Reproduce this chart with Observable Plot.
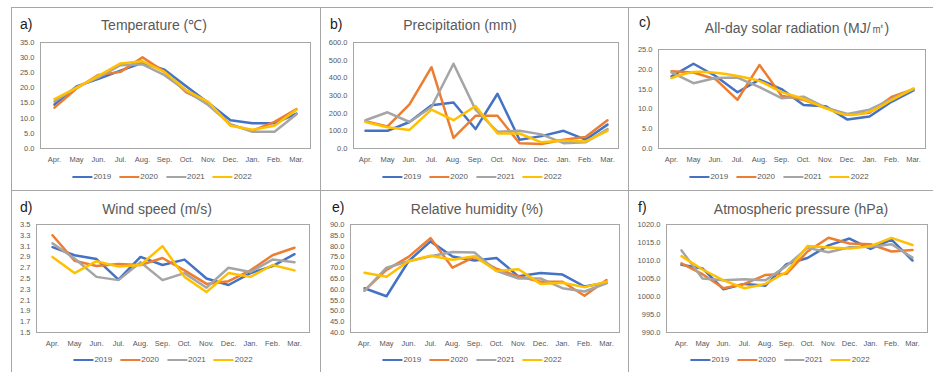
<!DOCTYPE html>
<html><head><meta charset="utf-8">
<script src="https://cdn.jsdelivr.net/npm/d3@7"></script>
<script src="https://cdn.jsdelivr.net/npm/@observablehq/plot@0.6"></script>
<style>
body{margin:0;background:#fff;font-family:"Liberation Sans",Arial,sans-serif;}
#root{position:relative;width:933px;height:372px;overflow:hidden;background:#fff;}
.abs{position:absolute;}
.ttl{position:absolute;font-size:14px;color:#595959;white-space:nowrap;transform:translateX(-50%);line-height:1;}
.lbl{position:absolute;font-size:14px;color:#1a1a1a;white-space:nowrap;line-height:1;}
.leg{position:absolute;display:flex;align-items:center;transform:translateX(-50%);font-size:8px;color:#595959;white-space:nowrap;line-height:1;}
.leg span.sw{display:inline-block;width:20px;height:2.5px;margin-right:1px;}
.leg span.tx{margin-right:8px;}
.hl{position:absolute;height:1px;background:#a6a6a6;}
.vl{position:absolute;width:1px;background:#a6a6a6;}
</style></head><body><div id="root"></div>
<script>
// ---- data ----
const months = ["Apr.","May","Jun.","Jul.","Aug.","Sep.","Oct.","Nov.","Dec.","Jan.","Feb.","Mar."];
const years = ["2019","2020","2021","2022"];
const colors = ["#4472C4","#ED7D31","#A5A5A5","#FFC000"];

const temperature = [
  [14.5,20.5,23.0,25.7,28.3,26.0,20.5,15.0,9.3,8.3,8.3,11.5],
  [13.5,19.8,24.3,25.3,30.1,25.3,18.5,15.0,7.8,5.9,8.8,13.0],
  [15.5,20.2,23.5,27.5,27.8,24.2,19.0,14.3,8.0,5.5,5.5,11.3],
  [16.3,20.0,24.0,28.1,28.8,25.3,19.2,15.3,7.5,6.2,7.5,12.8]
];
const precipitation = [
  [100,100,150,245,260,110,310,50,70,100,50,135],
  [155,125,250,460,60,185,185,30,25,50,65,160],
  [160,205,150,235,480,220,95,100,80,30,35,110],
  [150,120,105,220,160,240,85,85,35,45,40,100]
];
const solarRadiation = [
  [18.2,21.4,18.3,14.2,17.4,15.0,11.0,10.7,7.3,8.1,11.8,14.7],
  [19.5,19.2,17.5,12.3,21.1,13.3,12.3,10.3,8.5,9.0,13.0,15.0],
  [19.2,16.5,17.8,17.9,15.5,12.7,13.1,10.3,8.7,9.8,12.5,15.0],
  [17.8,19.3,19.1,18.3,17.0,14.3,12.5,10.2,8.5,9.3,12.2,15.2]
];
const windSpeed = [
  [3.08,2.93,2.86,2.48,2.90,2.75,2.85,2.50,2.38,2.60,2.73,2.95],
  [3.30,2.83,2.73,2.77,2.75,2.88,2.65,2.40,2.45,2.65,2.93,3.07],
  [3.15,2.87,2.53,2.47,2.80,2.47,2.60,2.33,2.70,2.62,2.85,2.80],
  [2.90,2.60,2.82,2.72,2.75,3.10,2.53,2.25,2.60,2.53,2.75,2.65]
];
const humidity = [
  [60.5,56.8,73.0,82.2,75.2,73.3,74.5,66.0,67.5,66.8,61.3,63.0],
  [59.5,69.0,75.0,83.7,70.0,75.0,69.5,66.0,63.5,63.5,57.0,64.3],
  [59.3,70.0,73.0,75.3,77.3,77.0,68.5,65.0,65.0,60.5,59.0,62.8],
  [67.7,65.8,73.0,75.5,73.7,75.3,68.5,69.3,62.5,63.0,61.0,63.5]
];
const pressure = [
  [1008.8,1007.8,1002.0,1003.5,1003.0,1009.0,1010.7,1014.2,1016.1,1013.2,1015.8,1010.0],
  [1009.2,1006.2,1002.3,1003.5,1006.0,1006.3,1012.5,1016.3,1014.7,1014.5,1012.5,1012.9],
  [1012.8,1005.0,1004.5,1004.8,1004.5,1008.5,1013.5,1012.3,1013.7,1013.8,1014.5,1010.8],
  [1011.2,1007.5,1004.5,1002.3,1003.5,1006.8,1014.0,1013.6,1013.3,1014.0,1016.3,1014.3]
];
const tempTicks = [0,5,10,15,20,25,30,35];
const precipTicks = [0,100,200,300,400,500,600];
const solarTicks = [0,5,10,15,20,25];
const windTicks = [1.5,1.7,1.9,2.1,2.3,2.5,2.7,2.9,3.1,3.3,3.5];
const humidityTicks = [40,45,50,55,60,65,70,75,80,85,90];
const pressureTicks = [990,995,1000,1005,1010,1015,1020];

// ---- layout ----
const panels = [
  {letter:"a)", title:"Temperature (℃)", values:temperature, ticks:tempTicks,
   frame:[40,310,42,148], titleX:154, titleY:18, letterX:20, letterY:17, legendX:166, legendY:173},
  {letter:"b)", title:"Precipitation (mm)", values:precipitation, ticks:precipTicks,
   frame:[353,618,42,148], titleX:460, titleY:18, letterX:330, letterY:17, legendX:476, legendY:173},
  {letter:"c)", title:"All-day solar radiation (MJ/㎡)", values:solarRadiation, ticks:solarTicks, smooth:["2022"],
   frame:[658,925,49,148], titleX:797, titleY:21, letterX:639, letterY:15, legendX:783, legendY:173},
  {letter:"d)", title:"Wind speed (m/s)", values:windSpeed, ticks:windTicks,
   frame:[36,309,224,332], titleX:157, titleY:202, letterX:20, letterY:200, legendX:167, legendY:356},
  {letter:"e)", title:"Relative humidity (%)", values:humidity, ticks:humidityTicks,
   frame:[350,619,224,332], titleX:477, titleY:202, letterX:332, letterY:200, legendX:476, legendY:356},
  {letter:"f)", title:"Atmospheric pressure (hPa)", values:pressure, ticks:pressureTicks,
   frame:[666,927,224,332], titleX:801, titleY:202, letterX:638, letterY:200, legendX:784, legendY:356}
];

const root = document.getElementById("root");
function add(cls, styles, html) {
  const d = document.createElement("div");
  d.className = cls;
  Object.assign(d.style, styles);
  if (html !== undefined) d.innerHTML = html;
  root.appendChild(d);
  return d;
}

// panel borders
add("hl", {left:"11px", top:"7px", width:"922px"});
add("hl", {left:"11px", top:"190px", width:"922px"});
add("vl", {left:"11px", top:"7px", height:"365px"});
add("vl", {left:"320px", top:"7px", height:"365px"});
add("vl", {left:"628px", top:"7px", height:"365px"});

const mL = 36, mR = 4, mT = 6, mB = 20;
for (const p of panels) {
  const [x0, x1, y0, y1] = p.frame;
  const data = [];
  p.values.forEach((arr, i) => arr.forEach((v, j) => data.push({year: years[i], month: months[j], value: v})));
  const smooth = p.smooth || [];
  const straightData = data.filter(d => !smooth.includes(d.year));
  const smoothData = data.filter(d => smooth.includes(d.year));
  const step = p.ticks[1] - p.ticks[0];
  const dec = step < 1 ? 1 : 1;
  const chart = Plot.plot({
    width: (x1 - x0) + mL + mR,
    height: (y1 - y0) + mT + mB,
    marginLeft: mL, marginRight: mR, marginTop: mT, marginBottom: mB,
    style: {fontFamily: '"Liberation Sans", Arial, sans-serif', fontSize: "7.5px", color: "#595959", background: "transparent", overflow: "visible"},
    x: {type: "point", domain: months, padding: 0.5},
    y: {domain: [p.ticks[0], p.ticks[p.ticks.length - 1]]},
    color: {domain: years, range: colors},
    marks: [
      Plot.frame({stroke: "#a6a6a6", strokeWidth: 1}),
      Plot.axisY({ticks: p.ticks, tickSize: 0, tickPadding: 6, tickFormat: d => d.toFixed(dec), label: null, fill: "#595959"}),
      Plot.axisX({tickSize: 0, tickPadding: 8, label: null, fill: "#595959"}),
      Plot.lineY(straightData, {x: "month", y: "value", z: "year", stroke: "year", strokeWidth: 2.5, strokeLinejoin: "round"}),
      Plot.lineY(smoothData, {x: "month", y: "value", z: "year", stroke: "year", strokeWidth: 2.5, curve: "catmull-rom"})
    ]
  });
  chart.style.position = "absolute";
  chart.style.left = (x0 - mL) + "px";
  chart.style.top = (y0 - mT) + "px";
  root.appendChild(chart);

  add("ttl", {left: p.titleX + "px", top: p.titleY + "px"}, p.title);
  add("lbl", {left: p.letterX + "px", top: p.letterY + "px"}, p.letter);
  const leg = add("leg", {left: p.legendX + "px", top: p.legendY + "px"});
  years.forEach((y, i) => {
    leg.insertAdjacentHTML("beforeend", `<span class="sw" style="background:${colors[i]}"></span><span class="tx">${y}</span>`);
  });
}
</script>
</body></html>
